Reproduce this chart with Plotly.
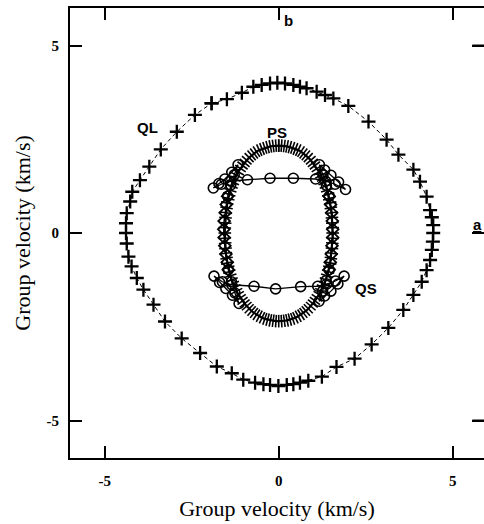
import numpy as np
import plotly.graph_objects as go

# ---------------- data (km/s) ----------------
ql_x = [-1.93, -1.49, -1.06, -0.73, -0.49, -0.25, -0.04, 0.18, 0.42, 0.61, 0.80, 1.09, 1.33, 1.57, 2.00,
        2.58, 3.10, 3.44, 3.87,
        4.06, 4.25, 4.35, 4.40, 4.44, 4.44, 4.43, 4.40, 4.35, 4.25, 4.11, 3.87,
        3.58, 3.15, 2.67, 2.18,
        1.66, 1.24, 0.85, 0.61, 0.42, 0.23, -0.01, -0.25, -0.44, -0.68, -1.02, -1.35, -1.78,
        -2.26, -2.79, -3.27, -3.60, -3.89, -4.08, -4.23,
        -4.32, -4.37, -4.39, -4.39, -4.37, -4.27, -4.21, -3.99, -3.72, -3.39, -2.93,
        -2.41, -1.93]
ql_y = [3.46, 3.57, 3.74, 3.90, 3.95, 3.99, 4.01, 3.99, 3.95, 3.90, 3.86, 3.77, 3.68, 3.59, 3.39,
        2.97, 2.49, 2.09, 1.69,
        1.37, 0.97, 0.61, 0.42, 0.21, 0.00, -0.23, -0.45, -0.72, -0.99, -1.30, -1.65,
        -2.05, -2.53, -2.97, -3.35,
        -3.57, -3.83, -3.94, -3.99, -4.03, -4.05, -4.08, -4.05, -4.03, -3.99, -3.91, -3.74, -3.56,
        -3.20, -2.81, -2.36, -1.91, -1.51, -1.20, -0.89,
        -0.63, -0.28, 0.00, 0.26, 0.53, 0.84, 1.10, 1.41, 1.77, 2.23, 2.70,
        3.15, 3.46]

ps_x = [0.00, 0.08, 0.16, 0.24, 0.32, 0.40, 0.48, 0.56, 0.64, 0.71, 0.78, 0.85, 0.92, 0.98, 1.04,
        1.10, 1.16, 1.21, 1.26, 1.31, 1.35, 1.39, 1.42, 1.45, 1.48, 1.50, 1.52, 1.53, 1.54, 1.55,
        1.55, 1.55, 1.54, 1.53, 1.52, 1.50, 1.48, 1.45, 1.42, 1.39, 1.35, 1.31, 1.26, 1.21, 1.16,
        1.10, 1.04, 0.98, 0.92, 0.85, 0.78, 0.71, 0.64, 0.56, 0.48, 0.40, 0.32, 0.24, 0.16, 0.08,
        0.00, -0.08, -0.16, -0.24, -0.32, -0.40, -0.48, -0.56, -0.64, -0.71, -0.78, -0.85, -0.92, -0.98, -1.04,
        -1.10, -1.16, -1.21, -1.26, -1.31, -1.35, -1.39, -1.42, -1.45, -1.48, -1.50, -1.52, -1.53, -1.54, -1.55,
        -1.55, -1.55, -1.54, -1.53, -1.52, -1.50, -1.48, -1.45, -1.42, -1.39, -1.35, -1.31, -1.26, -1.21, -1.16,
        -1.10, -1.04, -0.98, -0.92, -0.85, -0.78, -0.71, -0.64, -0.56, -0.48, -0.40, -0.32, -0.24, -0.16, -0.08,
        0.00]
ps_y = [2.33, 2.33, 2.32, 2.31, 2.29, 2.27, 2.24, 2.21, 2.17, 2.12, 2.07, 2.01, 1.94, 1.87, 1.80,
        1.72, 1.63, 1.54, 1.45, 1.35, 1.25, 1.14, 1.03, 0.92, 0.80, 0.67, 0.54, 0.41, 0.27, 0.14,
        0.00, -0.14, -0.27, -0.41, -0.54, -0.67, -0.80, -0.92, -1.03, -1.14, -1.25, -1.35, -1.45, -1.55, -1.64,
        -1.73, -1.81, -1.88, -1.95, -2.02, -2.08, -2.13, -2.18, -2.22, -2.26, -2.29, -2.31, -2.33, -2.34, -2.35,
        -2.35, -2.35, -2.34, -2.33, -2.31, -2.29, -2.26, -2.22, -2.18, -2.13, -2.08, -2.02, -1.95, -1.88, -1.81,
        -1.73, -1.64, -1.55, -1.45, -1.35, -1.25, -1.14, -1.03, -0.92, -0.80, -0.67, -0.54, -0.41, -0.27, -0.14,
        0.00, 0.14, 0.27, 0.41, 0.54, 0.67, 0.80, 0.92, 1.03, 1.14, 1.25, 1.35, 1.45, 1.54, 1.63,
        1.72, 1.80, 1.87, 1.94, 2.01, 2.07, 2.12, 2.17, 2.21, 2.24, 2.27, 2.29, 2.31, 2.32, 2.33,
        2.33]

qs_up_x = [-1.47, -1.38, -1.28, -1.17, -1.35, -1.55, -1.72, -1.88, -1.65, -1.38, -0.90, -0.25, 0.42, 1.06,
           1.35, 1.62, 1.92, 1.72, 1.50, 1.32, 1.17, 1.27, 1.37, 1.45]
qs_up_y = [0.98, 1.28, 1.55, 1.82, 1.62, 1.44, 1.32, 1.20, 1.30, 1.38, 1.42, 1.46, 1.46, 1.44,
           1.38, 1.30, 1.16, 1.36, 1.54, 1.68, 1.82, 1.55, 1.27, 0.98]
qs_lo_x = [-1.45, -1.36, -1.26, -1.14, -1.33, -1.52, -1.70, -1.86, -1.62, -1.35, -0.71, -0.09, 0.63, 1.12,
           1.38, 1.63, 1.88, 1.70, 1.50, 1.32, 1.16, 1.26, 1.36, 1.45]
qs_lo_y = [-0.98, -1.30, -1.60, -1.88, -1.66, -1.48, -1.32, -1.15, -1.30, -1.38, -1.42, -1.49, -1.43, -1.42,
           -1.36, -1.28, -1.15, -1.36, -1.55, -1.68, -1.82, -1.55, -1.27, -0.98]
qs_left_x = [-1.47, -1.51, -1.54, -1.57, -1.58, -1.57, -1.55, -1.52, -1.48, -1.45]
qs_left_y = [0.98, 0.76, 0.54, 0.32, 0.10, -0.12, -0.34, -0.56, -0.78, -0.98]
qs_right_x = [1.45, 1.49, 1.52, 1.54, 1.55, 1.55, 1.53, 1.51, 1.48, 1.45]
qs_right_y = [0.98, 0.76, 0.54, 0.32, 0.10, -0.12, -0.34, -0.56, -0.78, -0.98]

tick_vals = [-5, 0, 5]
tick_text = ['-5', '0', '5']
axis_title = 'Group velocity (km/s)'

# ---------------- figure ----------------
W, H = 484, 524
ML, MR, MT, MB = 70, 0, 8, 66
XR = [-6, 5.9]
YR = [-6, 6]
sx = (W - ML - MR) / (XR[1] - XR[0])
sy = (H - MT - MB) / (YR[1] - YR[0])

# hash-mark orientation (perpendicular to the PS curve, in screen space)
px = np.array(ps_x) * sx
py = np.array(ps_y) * sy
tx = np.gradient(px)
ty = np.gradient(py)
ps_ang = (-np.degrees(np.arctan2(ty, tx))).tolist()

fig = go.Figure()

fig.add_trace(go.Scatter(
    x=ql_x, y=ql_y, mode='lines+markers', name='QL',
    line=dict(color='black', width=1, dash='4px,3px'),
    marker=dict(symbol='cross-thin', size=10, line=dict(width=2.3, color='black'))))

fig.add_trace(go.Scatter(
    x=ps_x, y=ps_y, mode='lines+markers', name='PS',
    line=dict(color='black', width=2.2),
    marker=dict(symbol='line-ns', size=9, angle=ps_ang,
                line=dict(width=1.6, color='black'))))

for xs, ys in [(qs_left_x, qs_left_y), (qs_right_x, qs_right_y)]:
    fig.add_trace(go.Scatter(
        x=xs, y=ys, mode='lines+markers', name='QS',
        line=dict(color='black', width=1.5),
        marker=dict(symbol='diamond-open', size=9, line=dict(width=1.8, color='black'))))

for xs, ys in [(qs_up_x, qs_up_y), (qs_lo_x, qs_lo_y)]:
    fig.add_trace(go.Scatter(
        x=xs, y=ys, mode='lines+markers', name='QS',
        line=dict(color='black', width=1.3),
        marker=dict(symbol='circle-open', size=10, line=dict(width=1.6, color='black'))))

lab_font = dict(family='Liberation Sans', size=15, color='black', weight='bold')
annots = [
    dict(x=-3.76, y=2.81, text='QL'),
    dict(x=-0.05, y=2.67, text='PS'),
    dict(x=2.5, y=-1.47, text='QS'),
    dict(x=0.27, y=5.66, text='b'),
    dict(x=5.70, y=0.22, text='<u>a</u>'),
]
for a in annots:
    fig.add_annotation(x=a['x'], y=a['y'], text=a['text'], showarrow=False,
                       font=lab_font, xanchor='center', yanchor='middle')

# right-hand inward ticks (the right frame edge lies just outside the picture)
for tv in tick_vals:
    if tv != 0:
        fig.add_shape(type='line', xref='paper', yref='y', x0=0.972, x1=1.0, y0=tv, y1=tv,
                      line=dict(color='black', width=2))

axis_common = dict(
    showgrid=False, zeroline=False, showline=True, linecolor='black', linewidth=2,
    mirror='ticks', ticks='inside', ticklen=12, tickwidth=2, tickcolor='black',
    tickvals=tick_vals, ticktext=tick_text, automargin=False,
    tickfont=dict(family='Liberation Serif', size=15, color='black', weight='bold'),
    title=dict(text=axis_title, font=dict(family='Liberation Serif', size=22, color='black')),
)

fig.update_layout(
    template='none',
    width=W, height=H, showlegend=False,
    margin=dict(l=ML, r=MR, t=MT, b=MB, autoexpand=False),
    paper_bgcolor='white', plot_bgcolor='white',
    xaxis=dict(range=XR, ticklabelstandoff=8, **axis_common),
    yaxis=dict(range=YR, ticklabelstandoff=6, **axis_common),
)
fig.update_xaxes(title_standoff=13)
fig.update_yaxes(title_standoff=10)

fig.write_html(
    'out.html',
    config={'displayModeBar': False},
    post_script="document.body.style.margin='0';document.body.style.overflow='hidden';"
                "document.documentElement.style.overflow='hidden';")
